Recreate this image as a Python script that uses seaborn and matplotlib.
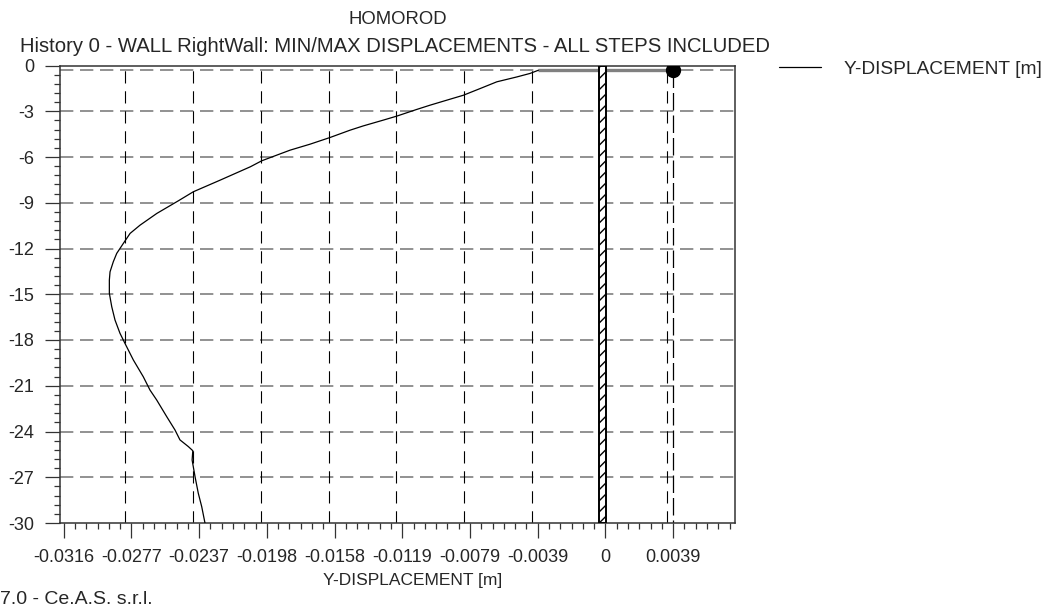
import matplotlib
matplotlib.use("Agg")
import matplotlib.pyplot as plt
import matplotlib.transforms as mtransforms
from matplotlib.patches import Rectangle
from matplotlib.ticker import FixedLocator, MultipleLocator
import numpy as np
import pandas as pd
import seaborn as sns

# Wall displacement envelope (depth in m, horizontal displacement in m)
depth = [-0.31, -0.52, -0.75, -1.07, -1.51, -1.95, -2.21, -2.60, -2.88, -3.32,
         -3.58, -3.96, -4.24, -4.72, -5.16, -5.55, -5.92, -6.25, -6.64, -7.52,
         -8.28, -8.87, -9.70, -10.47, -11.01, -11.66, -12.32, -12.87, -13.53, -14.07,
         -14.94, -15.82, -16.69, -17.56, -18.22, -19.31, -20.41, -21.28, -21.93, -23.03,
         -23.90, -24.55, -24.99, -25.26, -25.87, -26.96, -28.05, -28.93, -30.00]
y_disp = [-0.00391, -0.00440, -0.00517, -0.00634, -0.00731, -0.00829, -0.00907, -0.01023, -0.01101, -0.01218,
          -0.01296, -0.01413, -0.01490, -0.01607, -0.01724, -0.01840, -0.01928, -0.02006, -0.02072, -0.02249,
          -0.02405, -0.02492, -0.02618, -0.02716, -0.02774, -0.02813, -0.02852, -0.02872, -0.02891, -0.02895,
          -0.02895, -0.02881, -0.02862, -0.02833, -0.02804, -0.02755, -0.02697, -0.02658, -0.02619, -0.02560,
          -0.02512, -0.02483, -0.02434, -0.02408, -0.02412, -0.02395, -0.02376, -0.02356, -0.02337]

# Support level and its displacement
support_level = -0.3
support_disp = 0.00395

# Wall geometry
wall_top = 0.0
wall_bottom = -30.0
wall_left = -0.00035
wall_right = 0.00004

# Axis ticks
x_tick_values = [-0.031616, -0.027664, -0.023712, -0.01976, -0.015808,
                 -0.011856, -0.007904, -0.003952, 0.0, 0.003952]
x_tick_labels = ["-0.0316", "-0.0277", "-0.0237", "-0.0198", "-0.0158",
                 "-0.0119", "-0.0079", "-0.0039", "0", "0.0039"]
y_tick_values = [0, -3, -6, -9, -12, -15, -18, -21, -24, -27, -30]
y_tick_labels = ["0", "-3", "-6", "-9", "-12", "-15", "-18", "-21", "-24", "-27", "-30"]

title_top = "HOMOROD"
title_sub = "History 0 - WALL RightWall: MIN/MAX DISPLACEMENTS - ALL STEPS INCLUDED"
series_name = "Y-DISPLACEMENT [m]"
footer = "7.0 - Ce.A.S. s.r.l."

sns.set_style("white")
plt.rcParams["font.family"] = ["Liberation Sans", "DejaVu Sans"]
plt.rcParams["hatch.linewidth"] = 1.0

W, H, DPI = 1047, 604, 100
fig = plt.figure(figsize=(W / DPI, H / DPI), dpi=DPI)
ax = fig.add_axes([60 / W, 1 - 523 / H, (735 - 60) / W, (523 - 65.5) / H])

xmin, xmax = -0.03183, 0.00756
ax.set_xlim(xmin, xmax)
ax.set_ylim(-30, 0)

# horizontal grid (grey dashes)
for yv in y_tick_values[1:-1]:
    ax.axhline(yv, color="#7f7f7f", lw=1.2, dashes=(8, 4), zorder=1)
ax.axhline(support_level, color="#7f7f7f", lw=1.2, dashes=(8, 4), zorder=1)

# vertical grid (black dashes, drawn slightly left of the ticks)
shift = mtransforms.ScaledTranslation(-6 / DPI, 0, fig.dpi_scale_trans)
vtrans = ax.get_xaxis_transform() + shift
for xv in x_tick_values:
    ax.plot([xv, xv], [0, 1], transform=vtrans, color="black", lw=0.8,
            dashes=(11, 7), zorder=1)

# support: thick grey level line, marker and dashed vertical
ax.plot([y_disp[0], support_disp], [support_level, support_level],
        color="#808080", lw=2.4, zorder=2, solid_capstyle="butt")
ax.plot([support_disp, support_disp], [support_level, wall_bottom],
        color="black", lw=0.9, dashes=(14, 4), zorder=2)
ax.plot([support_disp], [support_level], "o", color="black", ms=10, zorder=5)

# the wall
ax.add_patch(Rectangle((wall_left, wall_bottom), wall_right - wall_left,
                       wall_top - wall_bottom, facecolor="white",
                       edgecolor="black", hatch="///", lw=1.4, zorder=3))

# displacement curve
df = pd.DataFrame({"depth": depth, "disp": y_disp})
sns.lineplot(data=df, x="disp", y="depth", sort=False, estimator=None,
             color="black", lw=0.9, ax=ax, label=series_name, zorder=4)

# ticks
ax.xaxis.set_major_locator(FixedLocator(x_tick_values))
ax.set_xticklabels(x_tick_labels)
step = x_tick_values[1] - x_tick_values[0]
ax.xaxis.set_minor_locator(MultipleLocator(step / 6))
ax.yaxis.set_major_locator(FixedLocator(y_tick_values))
ax.set_yticklabels(y_tick_labels)
ax.yaxis.set_minor_locator(MultipleLocator(0.6))
ax.tick_params(axis="both", which="major", direction="out", length=10.5,
               width=0.9, color="#333333", labelsize=13)
ax.tick_params(axis="both", which="minor", direction="out", length=4.5,
               width=0.9, color="#333333")
ax.tick_params(axis="x", which="major", pad=8)
ax.tick_params(axis="y", which="major", pad=8)
ax.tick_params(left=True, bottom=True, which="both")

for sp in ax.spines.values():
    sp.set_color("#333333")
    sp.set_linewidth(1.1)

ax.set_xlabel("")
ax.set_ylabel("")
fig.text(413 / W, 1 - 581 / H, series_name, ha="center", va="center",
         fontsize=12.5)

leg = ax.legend(loc="upper left", bbox_to_anchor=(771 / W, 1 - 53 / H),
                bbox_transform=fig.transFigure, frameon=False, fontsize=13.8,
                handlelength=2.2, handletextpad=1.2, borderaxespad=0)
for line in leg.get_lines():
    line.set_linewidth(0.9)

cx = (60 + 735) / 2 / W
fig.text(cx, 1 - 20 / H, title_top, ha="center", va="center", fontsize=13.3)
fig.text(cx - 3 / W, 1 - 47 / H, title_sub, ha="center", va="center", fontsize=14.6)
fig.text(0.0, 1 - 591 / H, footer, ha="left", va="top", fontsize=14)

fig.savefig("out.png", dpi=DPI)
